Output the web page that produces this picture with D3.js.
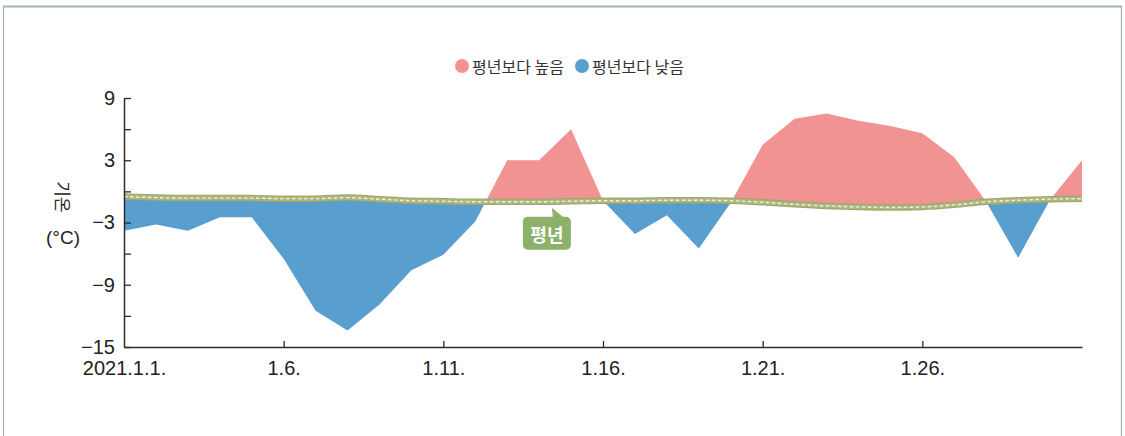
<!DOCTYPE html>
<html>
<head>
<meta charset="utf-8">
<script src="https://cdn.jsdelivr.net/npm/d3@7"></script>
<style>
  body { margin: 0; background: #fff; }
  svg { display: block; }
</style>
</head>
<body>
<svg width="1125" height="436"></svg>
<script>
// 2021년 1월 일별 기온과 평년값 (°C)
var days = [1, 2, 3, 4, 5, 6, 7, 8, 9, 10, 11, 12, 13, 14, 15, 16,
            17, 18, 19, 20, 21, 22, 23, 24, 25, 26, 27, 28, 29, 30, 31];
var temps = [-3.8, -3.2, -3.8, -2.5, -2.5, -6.5, -11.5, -13.4, -10.9, -7.6, -6.1, -2.9, 3.0, 3.0, 6.0, -0.9,
             -4.1, -2.3, -5.5, -1.1, 4.5, 7.0, 7.5, 6.8, 6.3, 5.6, 3.3, -1.0, -6.4, -0.8, 3.0];
var normals = [-0.5, -0.6, -0.65, -0.65, -0.65, -0.7, -0.7, -0.6, -0.75, -0.9, -0.95, -1.0, -1.0, -1.0, -0.95, -0.9,
               -0.9, -0.85, -0.85, -0.9, -1.05, -1.25, -1.4, -1.5, -1.55, -1.5, -1.3, -1.0, -0.85, -0.75, -0.7];

var xTickDays = [1, 6, 11, 16, 21, 26];
var xTickLabels = ["2021.1.1.", "1.6.", "1.11.", "1.16.", "1.21.", "1.26."];
var yTicks = [9, 6, 3, 0, -3, -6, -9, -12, -15];
var yLabeled = [9, 3, -3, -9, -15];
var legendNames = ["평년보다 높음", "평년보다 낮음"];

var pink = "#f19393";
var blue = "#589fd0";
var bubble = "#8db06b";

var svg = d3.select("svg");
var margin = { top: 98, right: 43, bottom: 89, left: 124 };
var width = +svg.attr("width") - margin.left - margin.right;
var height = +svg.attr("height") - margin.top - margin.bottom;

// frame round the figure
svg.append("path")
  .attr("d", "M3.5,436 V6.5 H1121.5 V436")
  .attr("fill", "none")
  .attr("stroke", "#9fb3bb")
  .attr("stroke-width", 1.2);
svg.append("line")
  .attr("x1", 3).attr("x2", 1122).attr("y1", 6.5).attr("y2", 6.5)
  .attr("stroke", "#9fb3bb").attr("stroke-width", 2);

var data = days.map(function (d, i) { return { day: d, t: temps[i], n: normals[i] }; });

var x = d3.scaleLinear().domain([1, 31]).range([0, width]);
var y = d3.scaleLinear().domain([-15, 9]).range([height, 0]);

var g = svg.append("g")
  .attr("transform", "translate(" + margin.left + "," + margin.top + ")");

var defs = svg.append("defs");
defs.append("clipPath").attr("id", "clip-above")
  .append("path")
  .attr("d", d3.area().x(d => x(d.day)).y0(-20).y1(d => y(d.n))(data));
defs.append("clipPath").attr("id", "clip-below")
  .append("path")
  .attr("d", d3.area().x(d => x(d.day)).y0(height + 20).y1(d => y(d.n))(data));

var diff = d3.area()
  .x(d => x(d.day))
  .y0(d => y(d.n))
  .y1(d => y(d.t));

g.append("path")
  .attr("clip-path", "url(#clip-above)")
  .attr("fill", pink)
  .attr("d", diff(data));
g.append("path")
  .attr("clip-path", "url(#clip-below)")
  .attr("fill", blue)
  .attr("d", diff(data));

// 평년 line: thick olive band with a light dashed centre
var normalLine = d3.line().x(d => x(d.day)).y(d => y(d.n)).curve(d3.curveMonotoneX);
g.append("path")
  .attr("d", normalLine(data))
  .attr("fill", "none")
  .attr("stroke", "#9ca769")
  .attr("stroke-width", 6.5);
g.append("path")
  .attr("d", normalLine(data))
  .attr("fill", "none")
  .attr("stroke", "#adb67f")
  .attr("stroke-width", 4.5);
g.append("path")
  .attr("d", normalLine(data))
  .attr("fill", "none")
  .attr("stroke", "#eef0dd")
  .attr("stroke-width", 1.4)
  .attr("stroke-dasharray", "3.5,2.5");

// axes
var yAxis = d3.axisLeft(y)
  .tickValues(yTicks)
  .tickSize(-7)
  .tickSizeOuter(0)
  .tickPadding(9)
  .tickFormat(v => yLabeled.indexOf(v) >= 0 ? (v < 0 ? "\u2212" + Math.abs(v) : String(v)) : "");
var xAxis = d3.axisBottom(x)
  .tickValues(xTickDays)
  .tickSize(-6)
  .tickSizeOuter(0)
  .tickPadding(14)
  .tickFormat((d, i) => xTickLabels[i]);

var yg = g.append("g").attr("class", "axis").call(yAxis);
var xg = g.append("g").attr("class", "axis")
  .attr("transform", "translate(0," + height + ")")
  .call(xAxis);

[yg, xg].forEach(function (a) {
  a.select(".domain").attr("stroke", "#2b2b2b").attr("stroke-width", 1.5);
  a.selectAll(".tick line").attr("stroke", "#2b2b2b").attr("stroke-width", 1.3);
  a.selectAll(".tick text")
    .attr("fill", "#222")
    .style("font-family", "'Liberation Sans', Arial, sans-serif")
    .style("font-size", "20px");
});
xg.selectAll(".tick").filter(d => d === 1).select("line").remove();

// y title
svg.append("text")
  .attr("transform", "translate(63,197) rotate(90)")
  .attr("text-anchor", "middle")
  .attr("dominant-baseline", "central")
  .style("font-family", "'Noto Sans CJK KR', sans-serif")
  .style("font-size", "17px")
  .attr("fill", "#222")
  .text("기온");
svg.append("text")
  .attr("x", 63).attr("y", 244)
  .attr("text-anchor", "middle")
  .style("font-family", "'Liberation Sans', Arial, sans-serif")
  .style("font-size", "19px")
  .attr("fill", "#222")
  .text("(°C)");

// 평년 call-out
var noteDay = 14.4;
var ax = x(noteDay), ay = y(-1.0) + 6;
var note = g.append("g").attr("transform", "translate(" + ax + "," + ay + ")");
note.append("rect")
  .attr("x", -29).attr("y", 9)
  .attr("width", 48).attr("height", 33)
  .attr("rx", 5)
  .attr("fill", bubble);
note.append("path")
  .attr("d", "M0,0 L12,10 L1,10 Z")
  .attr("fill", bubble);
note.append("text")
  .attr("x", -5).attr("y", 26)
  .attr("text-anchor", "middle")
  .attr("dominant-baseline", "central")
  .style("font-family", "'Noto Sans CJK KR', sans-serif")
  .style("font-size", "18px")
  .style("font-weight", "bold")
  .attr("fill", "#fff")
  .text("평년");

// legend
var legend = svg.append("g").attr("transform", "translate(462,66)");
var item = legend.selectAll("g")
  .data(legendNames).enter()
  .append("g")
  .attr("transform", (d, i) => "translate(" + i * 120 + ",0)");
item.append("circle")
  .attr("r", 7)
  .attr("fill", (d, i) => i === 0 ? pink : blue);
item.append("text")
  .attr("x", 10)
  .attr("dominant-baseline", "central")
  .style("font-family", "'Noto Sans CJK KR', sans-serif")
  .style("font-size", "16px")
  .attr("fill", "#333")
  .text(d => d);
</script>
</body>
</html>
